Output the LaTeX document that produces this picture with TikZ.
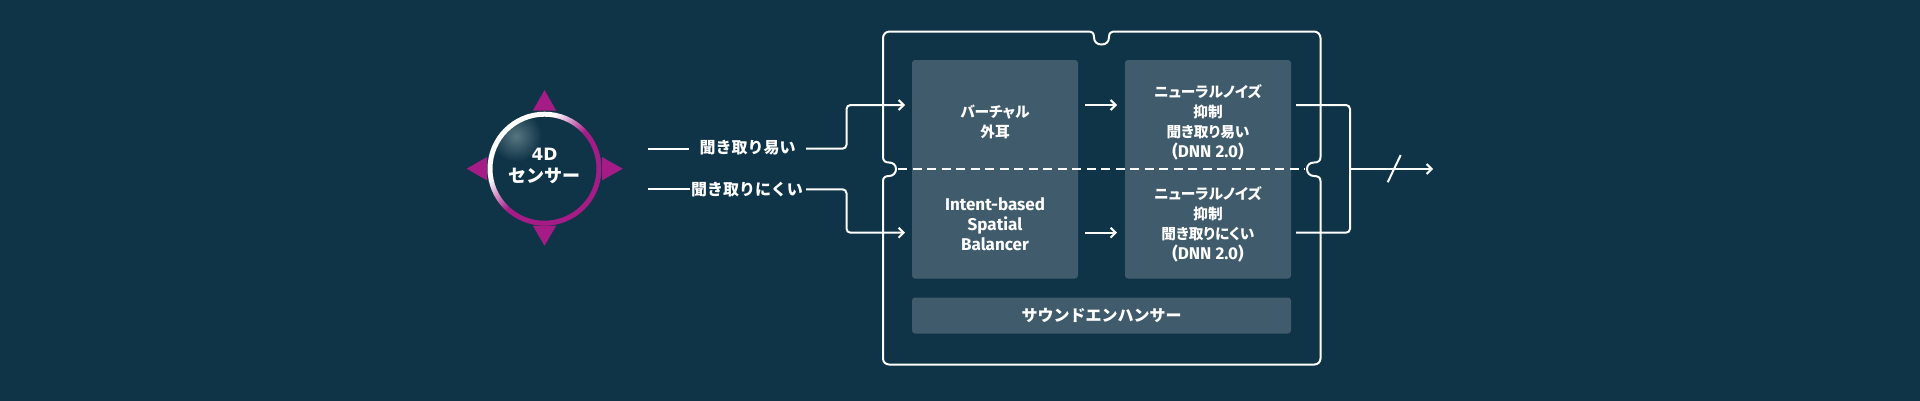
\documentclass[tikz,border=0pt]{standalone}
\usepackage{fontspec}
\setmainfont{Fira Sans}
\newfontfamily\jp{Noto Sans CJK JP}
\newfontfamily\jpp[RawFeature=+palt]{Noto Sans CJK JP}
\newfontfamily\djv{DejaVu Sans}
\definecolor{bgc}{HTML}{0F3347}
\definecolor{boxc}{HTML}{405C6C}
\definecolor{purp}{HTML}{A61C87}
\definecolor{hil}{HTML}{567680}
\usetikzlibrary{arrows.meta}
\pgfdeclareverticalshading{ringsh}{100bp}{color(0bp)=(purp);color(49bp)=(purp);color(64bp)=(white);color(100bp)=(white)}
\tikzset{
  wire/.style={draw=white,line width=2pt,rounded corners=4pt},
  arr/.style={wire,-{Straight Barb[length=5pt,width=10pt,line width=2pt]}},
  panel/.style={fill=boxc,rounded corners=3pt,draw=none},
  lbl/.style={text=white,font=\fontsize{17}{20}\selectfont\bfseries,align=center,inner sep=0pt},
  tri/.style={fill=purp,draw=none}
}
\newcommand{\J}[1]{{\fontsize{14.7}{20}\selectfont\jp\bfseries #1}}
\newcommand{\JL}[1]{{\fontsize{16}{20}\selectfont\jp\bfseries #1}}
\newcommand{\JP}[1]{{\fontsize{14.7}{20}\selectfont\jpp\bfseries #1}}
\begin{document}
\begin{tikzpicture}[x=1pt,y=-1pt]
\useasboundingbox (0,0) rectangle (1920,400);
\fill[bgc,overlay] (-3,-3) rectangle (1923,403);
% panels
\path[panel] (912,60) rectangle (1078,278.5);
\path[panel] (1125,60) rectangle (1291,278.5);
\path[panel] (912,297.5) rectangle (1291,333.5);
% outer frame
\draw[white,line width=2pt] (891,31.5)
 -- (1088,31.5) .. controls (1092,31.5) and (1094,33) .. (1094,37)
 .. controls (1094,42) and (1097,44.5) .. (1101.5,44.5)
 .. controls (1106,44.5) and (1109,42) .. (1109,37)
 .. controls (1109,33) and (1111,31.5) .. (1115,31.5)
 -- (1314,31.5) arc[start angle=-90,end angle=0,radius=6.5]
 -- (1320.5,157) .. controls (1320.5,161) and (1318,162.5) .. (1314,162.5)
 .. controls (1310,162.5) and (1307,165) .. (1307,169)
 .. controls (1307,173) and (1310,176) .. (1314,176)
 .. controls (1318,176) and (1320.5,177.5) .. (1320.5,181)
 -- (1320.5,358.5) arc[start angle=0,end angle=90,radius=6]
 -- (889,364.5) arc[start angle=90,end angle=180,radius=6]
 -- (883,181) .. controls (883,177.5) and (885.5,176) .. (889,176)
 .. controls (893,176) and (896,173) .. (896,169)
 .. controls (896,165) and (893,162.5) .. (889,162.5)
 .. controls (885.5,162.5) and (883,161) .. (883,157)
 -- (883,38) arc[start angle=180,end angle=270,radius=6.5] -- cycle;
\coordinate (dashL) at (898,169);
\coordinate (dashR) at (1305,169);
\draw[white,line width=2pt,dash pattern=on 9pt off 5.5pt] (dashL) -- (dashR);
% sensor
\fill[tri] (544.5,90) -- (556.2,110.7) -- (532.8,110.7) -- cycle;
\fill[tri] (544.5,245.7) -- (556.2,225.7) -- (532.8,225.7) -- cycle;
\fill[tri] (466.7,168.7) -- (487,157) -- (487,180.4) -- cycle;
\fill[tri] (622.7,168.7) -- (602,157) -- (602,180.4) -- cycle;
\begin{scope}
\clip (544.5,168.7) circle[radius=53];
\fill[bgc] (544.5,168.7) circle[radius=53];
\shade[inner color=hil,outer color=bgc,draw=none] (516,136) circle[radius=26];
\end{scope}
\shade[even odd rule,shading=ringsh,shading angle=45]
  (544.5,168.7) circle[radius=57] (544.5,168.7) circle[radius=52];
\node[lbl,font=\fontsize{17}{22.7}\selectfont\bfseries] (sensor) at (544.5,166) {{\djv 4D}\\{\fontsize{18}{22.7}\selectfont\jp センサー}};
% left labels and wires
\node[lbl] (easy) at (747.5,148) {\JL{聞き取り易い}};
\node[lbl] (hard) at (747,189.5) {\JL{聞き取りにくい}};
\coordinate (e0) at (648,148.7);
\coordinate (e1) at (689,148.7);
\coordinate (e2) at (806,148.7);
\coordinate (h0) at (648,189.3);
\coordinate (h1) at (690,189.3);
\coordinate (h2) at (806,189.3);
\coordinate (eT) at (905,105);
\coordinate (hT) at (905,232.7);
\draw[wire] (e0) -- (e1);
\draw[wire] (h0) -- (h1);
\draw[arr] (e2) -| (846.5,105) -- (eT);
\draw[arr] (h2) -| (846.5,232.7) -- (hT);
% panel text
\node[lbl] (ve) at (995,122) {\JP{バーチャル}\\\J{外耳}};
\node[lbl] (ib) at (995,224.5) {Intent-based\\Spatial\\Balancer};
\node[lbl] (n1) at (1208,122) {\JP{ニューラルノイズ}\\\J{抑制}\\\JP{聞き取り易い}\\(DNN 2.0)};
\node[lbl] (n2) at (1208,224.5) {\JP{ニューラルノイズ}\\\J{抑制}\\\JP{聞き取りにくい}\\(DNN 2.0)};
\node[lbl] (se) at (1101.5,315.5) {\JL{サウンドエンハンサー}};
% inner arrows
\coordinate (a1) at (1085,105);
\coordinate (b1) at (1117,105);
\coordinate (a2) at (1085,232.7);
\coordinate (b2) at (1117,232.7);
\draw[arr] (a1) -- (b1);
\draw[arr] (a2) -- (b2);
% outputs
\coordinate (o1) at (1296,105);
\coordinate (o2) at (1296,232.7);
\coordinate (oT) at (1433,169);
\draw[wire] (o1) -| (1350,232.7) -- (o2);
\draw[arr] (1350,169) -- (oT);
\coordinate (s1) at (1387.7,182.3);
\coordinate (s2) at (1400.7,155);
\draw[wire] (s1) -- (s2);
\end{tikzpicture}
\end{document}
